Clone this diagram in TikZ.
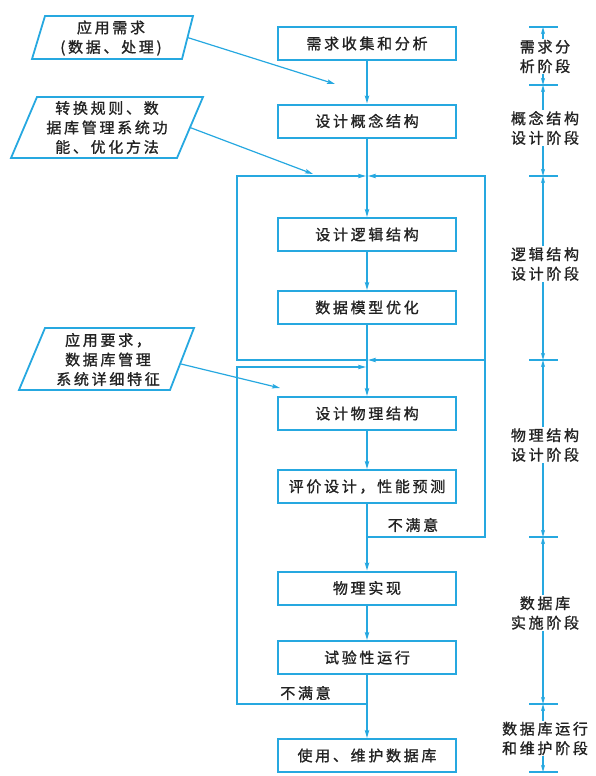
\documentclass[tikz,border=0pt]{standalone}
\usepackage{fontspec}
\newfontfamily\cjk[LetterSpace=18, FakeBold=1.2]{Noto Sans CJK SC}
\usetikzlibrary{arrows.meta}
\definecolor{lineblue}{RGB}{38,168,224}
\definecolor{textgray}{RGB}{35,35,35}
\begin{document}
\begin{tikzpicture}[x=1pt,y=-1pt,
  every node/.style={text=textgray, font=\cjk\fontsize{15}{19.5}\selectfont},
  box/.style={draw=lineblue, line width=2pt, minimum width=178pt, minimum height=33pt, inner sep=0pt},
  conn/.style={draw=lineblue, line width=1.2pt},
  arr/.style={conn, -{Stealth[length=8pt,width=4.5pt,inset=1.5pt]}},
  darr/.style={conn, -{Stealth[length=7pt,width=4pt,inset=1.5pt]}},
  para/.style={draw=lineblue, line width=1.8pt, line join=miter},
  lab/.style={align=center, inner sep=1pt},
]
\useasboundingbox (0,0) rectangle (596,776);

% main boxes
\node[box] (b1) at (367,43.5) {需求收集和分析};
\node[box] (b2) at (367,121) {设计概念结构};
\node[box] (b3) at (367,234.5) {设计逻辑结构};
\node[box] (b4) at (367,307.5) {数据模型优化};
\node[box] (b5) at (367,413.5) {设计物理结构};
\node[box] (b6) at (367,486.5) {评价设计，性能预测};
\node[box] (b7) at (367,588) {物理实现};
\node[box] (b8) at (367,657.5) {试验性运行};
\node[box] (b9) at (367,755.5) {使用、维护数据库};

% junctions
\coordinate (j1) at (367,176);
\coordinate (j2) at (367,360);
\coordinate (j3) at (367,367);
\coordinate (j4) at (367,537);
\coordinate (j5) at (367,704);
\coordinate (L1) at (237,176);
\coordinate (L2) at (237,360);
\coordinate (L3) at (237,367);
\coordinate (L4) at (237,704);
\coordinate (R1) at (485,176);
\coordinate (R2) at (485,360);
\coordinate (R3) at (485,537);

\draw[arr] (b1) -- (b2);
\draw[arr] (b2) -- (b3);
\draw[arr] (b3) -- (b4);
\draw[arr] (b4) -- (b5);
\draw[arr] (b5) -- (b6);
\draw[arr] (b6) -- (b7);
\draw[arr] (b7) -- (b8);
\draw[arr] (b8) -- (b9);

\draw[arr, shorten >=1pt] (j2) -- (L2) -- (L1) -- (j1);
\draw[arr, shorten >=1pt] (j4) -- (R3) -- (R1) -- (j1);
\draw[arr, shorten >=1pt] (R2) -- (j2);
\draw[arr, shorten >=1pt] (j5) -- (L4) -- (L3) -- (j3);

\node[inner sep=0pt] (n1) at (413,525) {不满意};
\node[inner sep=0pt] (n2) at (305.5,693) {不满意};

% input parallelograms
\draw[para] (45,16) -- (193,16) -- (182,59) -- (32,59) -- cycle;
\node[lab] (p1) at (111,38) {应用需求\\(数据、处理)};
\coordinate (p1e) at (187.5,37.5);
\coordinate (t1) at (335,84);
\draw[arr] (p1e) -- (t1);

\draw[para] (37,97) -- (203,97) -- (177,158) -- (11,158) -- cycle;
\node[lab] (p2) at (107,127.5) {转换规则、数\\据库管理系统功\\能、优化方法};
\coordinate (p2e) at (190,127.5);
\coordinate (t2) at (313,174);
\draw[arr] (p2e) -- (t2);

\draw[para] (45,328) -- (194,328) -- (170,390) -- (19,390) -- cycle;
\node[lab] (p3) at (108,359.5) {应用要求，\\数据库管理\\系统详细特征};
\coordinate (p3e) at (181,364);
\coordinate (t3) at (280,388);
\draw[arr] (p3e) -- (t3);

% right stage scale
\coordinate (s0) at (543,27);
\coordinate (s1) at (543,85);
\coordinate (s2) at (543,176);
\coordinate (s3) at (543,360);
\coordinate (s4) at (543,537);
\coordinate (s5) at (543,704);
\coordinate (s6) at (543,772);
\foreach \s in {s0,s1,s2,s3,s4,s5,s6}
  \draw[conn] ([xshift=-14pt]\s) -- ([xshift=15pt]\s);

\node[lab] (r1) at (545,56.5) {需求分\\析阶段};
\node[lab] (r2) at (545,128) {概念结构\\设计阶段};
\node[lab] (r3) at (545,264) {逻辑结构\\设计阶段};
\node[lab] (r4) at (545,445) {物理结构\\设计阶段};
\node[lab] (r5) at (545,613) {数据库\\实施阶段};
\node[lab] (r6) at (545,738.5) {数据库运行\\和维护阶段};

\draw[darr] (r1.north -| s0) -- (s0);
\draw[darr] (r1.south -| s0) -- (s1);
\draw[darr] (r2.north -| s0) -- (s1);
\draw[darr] (r2.south -| s0) -- (s2);
\draw[darr] (r3.north -| s0) -- (s2);
\draw[darr] (r3.south -| s0) -- (s3);
\draw[darr] (r4.north -| s0) -- (s3);
\draw[darr] (r4.south -| s0) -- (s4);
\draw[darr] (r5.north -| s0) -- (s4);
\draw[darr] (r5.south -| s0) -- (s5);
\draw[darr] (r6.north -| s0) -- (s5);
\draw[darr] (r6.south -| s0) -- (s6);
\end{tikzpicture}
\end{document}
